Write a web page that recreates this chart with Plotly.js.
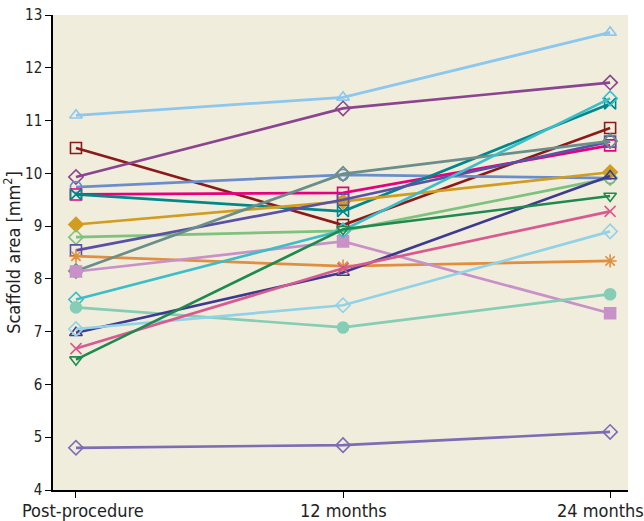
<!DOCTYPE html>
<html><head><meta charset="utf-8">
<script src="https://cdn.plot.ly/plotly-3.0.1.min.js"></script>
<style>body{margin:0;background:#fff}#c{width:644px;height:521px}</style>
</head><body><div id="c"></div>
<script>
const timepoints = [0, 1, 2];
const tickLabels = ["Post-procedure", "12 months", "24 months"];

const s01 = [11.10, 11.44, 12.67];
const s02 = [10.48, 9.02, 10.86];
const s03 = [9.93, 11.23, 11.72];
const s04 = [9.74, 9.97, 9.91];
const s05 = [9.60, 9.63, 10.53];
const s06 = [9.60, 9.28, 11.32];
const s07 = [9.03, 9.47, 10.02];
const s08 = [8.79, 8.91, 9.91];
const s09 = [8.54, 9.50, 10.60];
const s10 = [8.43, 8.24, 8.34];
const s11 = [8.15, 9.99, 10.61];
const s12 = [8.14, 8.71, 7.35];
const s13 = [7.61, 8.92, 11.42];
const s14 = [7.46, 7.08, 7.71];
const s15 = [6.98, 8.12, 9.95];
const s16 = [7.05, 7.50, 8.90];
const s17 = [6.68, 8.20, 9.28];
const s18 = [6.47, 8.94, 9.57];
const s19 = [4.80, 4.85, 5.10];

const series = [
  [s01, "#8CC7EE", "triangle-up-open"],
  [s02, "#8B1A1A", "square-open"],
  [s03, "#8B4590", "diamond-open"],
  [s04, "#6A8ECC", "circle-open"],
  [s05, "#E6007E", "square-open"],
  [s06, "#00878A", "bowtie-open"],
  [s07, "#D19D20", "diamond"],
  [s08, "#7DC27D", "diamond-open"],
  [s09, "#5A50A6", "square-open"],
  [s10, "#E08E40", "asterisk-open"],
  [s11, "#6A8E8A", "diamond-open"],
  [s12, "#C891C8", "square"],
  [s13, "#3BBEC8", "diamond-open"],
  [s14, "#86CDB5", "circle"],
  [s15, "#3D3A90", "triangle-up-open"],
  [s16, "#92D2E6", "diamond-open"],
  [s17, "#D85A90", "x-thin-open"],
  [s18, "#1E8A50", "triangle-down-open"],
  [s19, "#7E6CB5", "diamond-open"]
];

const traces = series.map(([y, c, sym]) => ({
  x: timepoints, y: y, type: "scatter", mode: "lines+markers",
  line: {color: c, width: 2.7},
  marker: {symbol: sym, color: c, size: 11, line: {color: c, width: 1.6}},
  showlegend: false, cliponaxis: false
}));

const font = "'DejaVu Sans Condensed', 'Liberation Sans Narrow', 'Liberation Sans', sans-serif";
const labelShift = [7, 0, -10];
const annotations = tickLabels.map((t, i) => ({
  text: t, x: timepoints[i], xref: "x", y: 0, yref: "paper",
  yanchor: "top", yshift: -8, xshift: labelShift[i], showarrow: false,
  font: {size: 18, family: font, color: "#222"}
}));

const layout = {
  width: 644, height: 521,
  margin: {l: 53, r: 16, t: 15, b: 31},
  paper_bgcolor: "#ffffff", plot_bgcolor: "#F1EDDC",
  font: {family: font, color: "#222", size: 15},
  annotations: annotations,
  xaxis: {
    range: [-0.086, 2.067], tickvals: timepoints, showticklabels: false,
    showgrid: false, zeroline: false, showline: true, linecolor: "#000", linewidth: 1.5,
    ticks: "outside", ticklen: 6, tickcolor: "#000"
  },
  yaxis: {
    range: [4, 13], dtick: 1, showgrid: false, zeroline: false,
    showline: true, linecolor: "#000", linewidth: 1.5,
    ticks: "outside", ticklen: 6, tickcolor: "#000", tickfont: {size: 15, family: font},
    title: {text: "Scaffold area [mm<sup>2</sup>]", font: {size: 18, family: font}, standoff: 8}
  }
};
Plotly.newPlot("c", traces, layout, {displayModeBar: false});
</script></body></html>
